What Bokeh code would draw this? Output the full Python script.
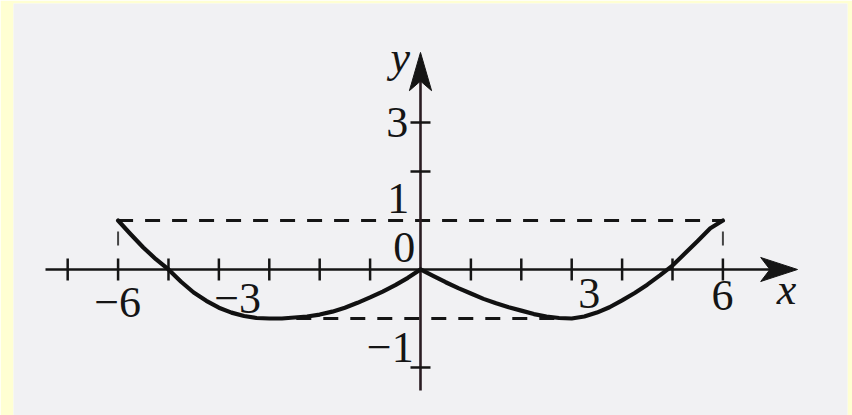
import numpy as np
from bokeh.plotting import figure
from bokeh.models import Range1d
from bokeh.core.properties import value
from bokeh.embed import file_html
from bokeh.resources import INLINE

# ---------------- data ----------------
curve_x = [-6, -5.75, -5.5, -5.25, -5, -4.75, -4.5, -4.25, -4, -3.75, -3.5, -3.25, -3,
           -2.75, -2.5, -2.25, -2, -1.75, -1.5, -1.25, -1, -0.75, -0.5, -0.25, 0,
           0.25, 0.5, 0.75, 1, 1.25, 1.5, 1.75, 2, 2.25, 2.5, 2.75, 3,
           3.25, 3.5, 3.75, 4, 4.25, 4.5, 4.75, 5, 5.25, 5.5, 5.75, 6]
curve_y = [1.0, 0.72, 0.45, 0.21, 0.0, -0.25, -0.47, -0.64, -0.78, -0.88, -0.95, -0.99, -1.0,
           -1.0, -0.98, -0.96, -0.92, -0.86, -0.78, -0.68, -0.57, -0.45, -0.32, -0.17, 0.0,
           -0.13, -0.26, -0.38, -0.49, -0.6, -0.69, -0.77, -0.84, -0.91, -0.96, -0.99, -1.0,
           -0.96, -0.88, -0.77, -0.63, -0.48, -0.31, -0.12, 0.08, 0.33, 0.58, 0.84, 1.0]
x_ticks = [-7, -6, -5, -4, -3, -2, -1, 1, 2, 3, 4, 5, 6]
y_ticks = [-2, 2, 3]
x_tick_labels = ["−6", "−3", "3", "6"]
y_tick_labels = ["3", "1", "0", "−1"]
f_max, f_min = 1, -1          # dashed guide levels
domain = [-6, 6]              # domain of the function
min_at = [-3, 3]              # abscissae of the minima

# ---------------- layout ----------------
X_START, X_END = -7.44, 7.48
Y_START, Y_END = -2.47, 4.43
x_label_pos = [(-6.01, -0.67), (-3.63, -0.59), (3.35, -0.49), (5.99, -0.53)]
y_label_pos = [(-0.46, 3.0), (-0.44, 1.45), (-0.32, 0.45), (-0.60, -1.59)]
INK = "#151515"
FONT = "Liberation Serif"
FS = "44px"

p = figure(width=852, height=415,
           x_range=Range1d(-8.075, 8.472), y_range=Range1d(-2.980, 5.429),
           x_axis_type=None, y_axis_type=None,
           output_backend="svg", toolbar_location=None,
           min_border_left=13, min_border_right=5, min_border_top=3, min_border_bottom=0,
           background_fill_color="#F1F1F3", border_fill_color="#FFFFD2",
           outline_line_color=None)
p.grid.visible = False

# dashed guides
p.segment(x0=[domain[0]], y0=[f_max], x1=[domain[1]], y1=[f_max],
          line_color=INK, line_width=3, line_dash="15 12")
p.segment(x0=[min_at[0]], y0=[f_min], x1=[min_at[1]], y1=[f_min],
          line_color=INK, line_width=3, line_dash="15 12")
p.segment(x0=domain, y0=[0, 0], x1=domain, y1=[f_max, f_max],
          line_color="#444444", line_width=2, line_dash="0 24 14 20")

# axes
p.segment(x0=[X_START], y0=[0], x1=[X_END - 0.4], y1=[0], line_color=INK, line_width=2.6)
p.segment(x0=[0], y0=[Y_START], x1=[0], y1=[Y_END - 0.4], line_color="#2a1c22", line_width=2.6)
L, HW = 0.73, 0.245
p.patch(x=[X_END, X_END - L, X_END - 0.75 * L, X_END - L], y=[0, HW, 0, -HW],
        fill_color=INK, line_color=INK, line_width=1)
L2, HW2 = 0.78, 0.22
p.patch(x=[0, HW2, 0, -HW2], y=[Y_END, Y_END - L2, Y_END - 0.75 * L2, Y_END - L2],
        fill_color=INK, line_color=INK, line_width=1)

# ticks
p.scatter(x=x_ticks, y=[0] * len(x_ticks), marker="dash", size=22, angle=np.pi / 2,
          line_color=INK, line_width=2.5)
p.scatter(x=[0] * len(y_ticks), y=y_ticks, marker="dash", size=20,
          line_color=INK, line_width=2.5)

# the graph
p.line(curve_x, curve_y, line_color="#111111", line_width=4.2, line_join="round", line_cap="round")

# tick labels
p.text(x=[q[0] for q in x_label_pos], y=[q[1] for q in x_label_pos], text=x_tick_labels,
       text_font=value(FONT), text_font_size=FS, text_align="center",
       text_baseline="middle", text_color=INK)
p.text(x=[q[0] for q in y_label_pos], y=[q[1] for q in y_label_pos], text=y_tick_labels,
       text_font=value(FONT), text_font_size=FS, text_align="center",
       text_baseline="middle", text_color=INK)
# axis names
p.text(x=[7.26, -0.40], y=[-0.41, 4.33], text=["x", "y"],
       text_font=value(FONT), text_font_size=FS, text_font_style="italic",
       text_align="center", text_baseline="middle", text_color=INK)

open("out.html", "w").write(file_html(p, INLINE))
